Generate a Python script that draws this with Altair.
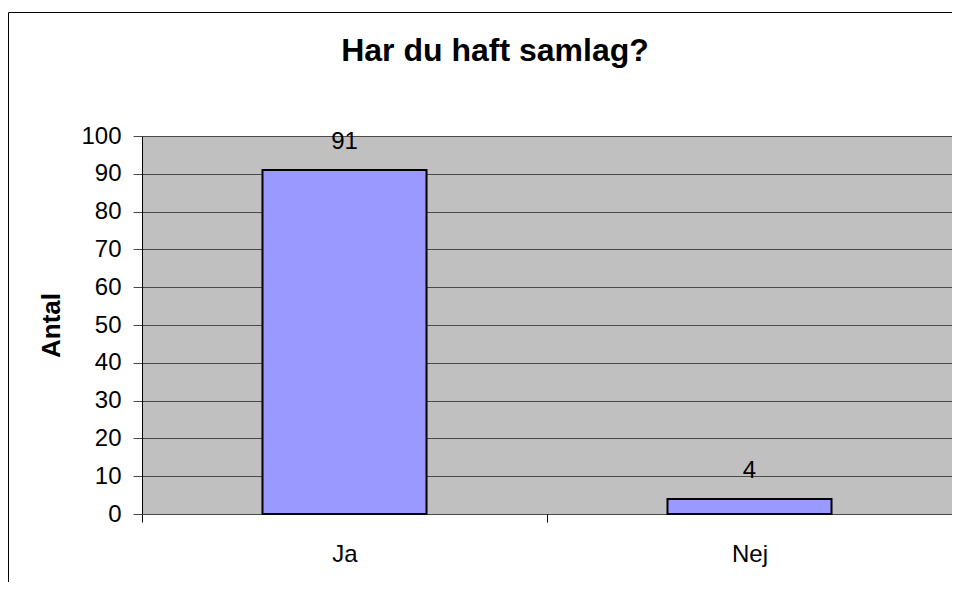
import altair as alt
import pandas as pd

categories = ["Ja", "Nej"]
values = [91, 4]
y_ticks = [0, 10, 20, 30, 40, 50, 60, 70, 80, 90, 100]
title_text = "Har du haft samlag?"
y_title = "Antal"

df = pd.DataFrame({"svar": categories, "antal": values})
FONT = "Liberation Sans"

x_enc = alt.X(
    "svar:N",
    sort=categories,
    scale=alt.Scale(paddingInner=0, paddingOuter=0),
    axis=alt.Axis(
        title=None,
        labelAngle=0,
        labelFont=FONT,
        labelFontSize=24,
        labelColor="black",
        labelBaseline="alphabetic",
        labelPadding=39,
        tickBand="extent",
        tickSize=8,
        tickColor="black",
        domain=False,
        grid=False,
    ),
)
y_enc = alt.Y(
    "antal:Q",
    scale=alt.Scale(domain=[0, 100], nice=False),
    axis=alt.Axis(
        values=y_ticks,
        title=y_title,
        titleFont=FONT,
        titleFontSize=26,
        titleFontWeight="bold",
        titleColor="black",
        titleAngle=270,
        titleAlign="center",
        titleBaseline="middle",
        titleX=-91,
        titleY=189,
        labelFont=FONT,
        labelFontSize=24,
        labelColor="black",
        labelPadding=12,
        labelOverlap=False,
        tickSize=9,
        tickColor="#4a4a4a",
        domainColor="black",
        gridColor="#4a4a4a",
        gridWidth=1,
        gridOpacity=1,
    ),
)

base = alt.Chart(df)

border = alt.Chart(pd.DataFrame({"b": [0]})).mark_rect(
    filled=False, stroke="black", strokeWidth=1
).encode(
    x=alt.value(-133.5), x2=alt.value(840), y=alt.value(-123.5), y2=alt.value(470)
)

bars = base.mark_bar(
    color="#9999FF", stroke="black", strokeWidth=2, width=alt.RelativeBandSize(0.405)
).encode(x=x_enc, y=y_enc)

labels = base.mark_text(
    baseline="alphabetic", dy=-21, fontSize=24, font=FONT, color="black"
).encode(x=x_enc, y=y_enc, text="antal:Q")

chart = alt.layer(border, bars, labels).properties(
    width=810,
    height=378,
    title=alt.TitleParams(
        text=title_text,
        font=FONT,
        fontSize=32,
        fontWeight="bold",
        color="black",
        anchor="middle",
        baseline="alphabetic",
        dx=-52,
        offset=-81,
    ),
    autosize=alt.AutoSizeParams(type="none"),
    padding={"left": 134, "top": 128, "right": 0, "bottom": 68},
).configure_view(
    fill="#C0C0C0", stroke="#808080", strokeWidth=1
)

chart.save("out.html", embed_options={"renderer": "svg", "actions": False})
